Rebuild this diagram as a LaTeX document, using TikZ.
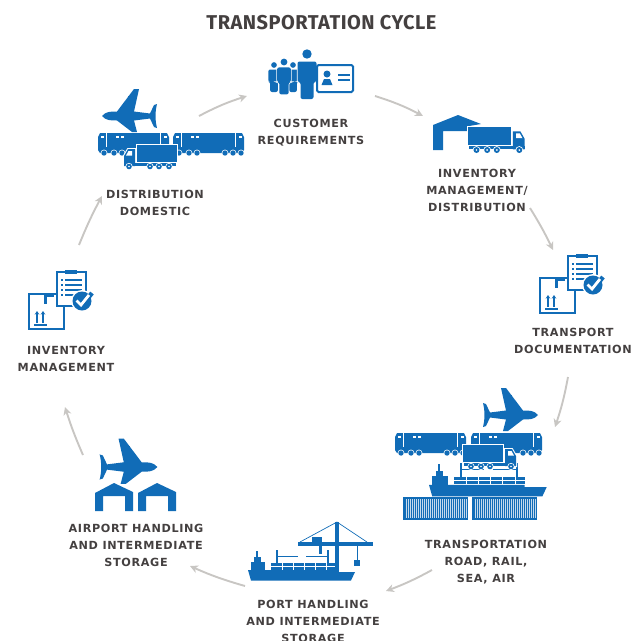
\documentclass[tikz,border=0pt]{standalone}
\usepackage{fontspec}
\usetikzlibrary{arrows.meta}
\newfontfamily\stagefont[LetterSpace=6]{DejaVu Sans}
\newfontfamily\headfont[LetterSpace=2.5]{Fira Sans}
\definecolor{iconblue}{RGB}{17,108,183}
\definecolor{labelgray}{RGB}{68,64,64}
\definecolor{flowgray}{RGB}{200,198,195}
\tikzset{
    halo/.style={fill=iconblue, preaction={draw=white, line width=2pt}},
    flow/.style={flowgray, line width=1.9pt, -{Stealth[length=8pt,width=8pt,inset=2.5pt]}},
    stagezone/.style={inner sep=0pt, outer sep=0pt, minimum width=#1},
    stagelabel/.style={text=labelgray, align=center, inner sep=0pt,
        font=\stagefont\bfseries\fontsize{11.2}{17}\selectfont},
    plane/.pic={
        \fill[halo] (-28,0) .. controls (-24,-4.5) and (-20,-4.5) .. (-13,-4.5) -- (4,-27) -- (9,-27)
            -- (4,-4.5) -- (20,-2.5) -- (24,-11) -- (27,-12) .. controls (25,-4) and (25,4) .. (27,12)
            -- (24,11) -- (20,2.5) -- (4,4.5) -- (7,16) -- (2,16) -- (-13,4.5)
            .. controls (-20,4.5) and (-24,4.5) .. (-28,0) -- cycle;
        \fill[iconblue] (-7,-12.5) rectangle (1,-9.5);
        \fill[iconblue] (-2,-20) rectangle (4,-17);
    },
    train/.pic={
        \fill[iconblue] (0,9) -- (0,4) -- (2,0) -- (69,0) -- (71,4) -- (71,17) -- (69,20) -- (2,20) -- (0,17) -- cycle;
        \fill[white] (2.5,3) rectangle (5.5,4.8);
        \fill[white] (65.5,3) rectangle (68.5,4.8);
        \fill[white] (18,3) rectangle (21,5);
        \fill[white] (23,3) rectangle (26,5);
        \draw[white, line width=.5pt] (8.5,0) -- (8.5,14) (62.5,0) -- (62.5,14);
        \foreach \wheelx in {6,16,24,52,60,68} {
            \fill[white] (\wheelx,20) circle (3.4);
            \fill[iconblue] (\wheelx,20) circle (2.7);
        }
    },
    truck/.pic={
        \fill[halo] (-1,0) rectangle (39,17);
        \fill[halo] (41,4) -- (48,4) -- (52,11) -- (52,21) -- (41,21) -- cycle;
        \fill[iconblue] (0,18) rectangle (52,21);
        \fill[white] (44,6) -- (47.5,6) -- (50,10.5) -- (44,10.5) -- cycle;
        \foreach \wheelx in {7,17,26,47} {
            \fill[white] (\wheelx,21.5) circle (3.6);
            \fill[iconblue] (\wheelx,21.5) circle (2.8);
            \fill[white] (\wheelx,21.5) circle (.9);
        }
    },
    ship/.pic={
        \fill[iconblue] (0,-1) -- (3,9.5) -- (103,9.5) -- (107,1) -- (87,1) -- (87,-1) -- cycle;
        \fill[iconblue] (3,-9) rectangle (17,0);
        \fill[iconblue] (6,-14) rectangle (13,-9);
        \fill[iconblue] (8,-20) rectangle (10,-14);
        \fill[iconblue] (23,-8) rectangle (87,-1.5);
        \foreach \slotx in {34,45,56,67,78} {
            \draw[white, line width=.6pt] (\slotx,-8) -- (\slotx,-1.5);
        }
        \draw[white, line width=.6pt] (23,-4.8) -- (87,-4.8);
        \fill[iconblue] (28,-21) rectangle (30,-8);
        \fill[iconblue] (79,-21) rectangle (81,-8);
        \draw[iconblue, line width=.8pt] (30,-15) -- (50,-15) (58,-15) -- (79,-15);
    },
    crane/.pic={
        \fill[iconblue] (-1.6,0) rectangle (1.6,50);
        \fill[iconblue] (-39,20) rectangle (36,23.5);
        \draw[iconblue, line width=.7pt] (-37,20) -- (0,0) -- (30,20);
        \fill[iconblue] (-25,15) rectangle (-15,22);
        \fill[iconblue] (-18,23) rectangle (-15.5,32);
        \draw[iconblue, line width=.7pt] (20,23) -- (20,38);
        \fill[iconblue] (16.5,38) rectangle (22.5,44);
    },
    container/.pic={
        \fill[iconblue] (0,0) rectangle (65,23);
        \foreach \ribx in {3,5,...,63} {
            \draw[white!75!iconblue, line width=.5pt] (\ribx,2) -- (\ribx,21);
        }
    },
    depot/.pic={
        \fill[iconblue] (0,10) -- (25,0) -- (48,9) -- (36,11) -- (36,16) -- (10,16) -- (10,35) -- (0,35) -- cycle;
    },
    hangar/.pic={
        \fill[iconblue] (0,10) -- (19,0) -- (38,9) -- (38,28) -- (30,28) -- (30,13) -- (8,13) -- (8,28) -- (0,28) -- cycle;
    },
    paperwork/.pic={
        \draw[iconblue, line width=1.8pt] (0,0) rectangle (35,35);
        \fill[iconblue] (15,0) rectangle (25,3);
        \fill[iconblue] (15,0) rectangle (18,10);
        \draw[iconblue, line width=1.2pt, -{Stealth[length=3.5pt,width=4.5pt]}] (8,29) -- (8,17);
        \draw[iconblue, line width=1.2pt, -{Stealth[length=3.5pt,width=4.5pt]}] (14,29) -- (14,17);
        \fill[iconblue] (5,30) rectangle (18,31.5);
        \draw[iconblue, fill=white, line width=1.8pt] (28,-22) rectangle (57,12);
        \fill[iconblue] (36,-24) rectangle (48,-20);
        \foreach \rowy in {-15,-10,-5,0} {
            \fill[iconblue] (32,\rowy) rectangle (34,\rowy+2);
            \fill[iconblue] (36,\rowy) rectangle (53,\rowy+2);
        }
        \fill[white] (53,7) circle (11);
        \fill[iconblue] (53,7) circle (9.5);
        \draw[iconblue, line width=4.5pt] (55,9) -- (63,-1);
        \draw[white, line width=2.8pt] (47.5,6.5) -- (52,11) -- (60,1);
    },
    person/.pic={
        \fill[iconblue, preaction={draw=white, line width=1.5pt}] (0,0) circle (4.7);
        \fill[iconblue, rounded corners=2pt, preaction={draw=white, line width=1.5pt}]
            (-9.5,7.5) -- (9.5,7.5) -- (9.5,28) -- (6.5,28) -- (6.5,45) -- (-6.5,45) -- (-6.5,28) -- (-9.5,28) -- cycle;
    },
    idcard/.pic={
        \draw[iconblue, line width=2pt, rounded corners=1.5pt] (0,0) rectangle (36,27);
        \fill[iconblue] (10,9) circle (3.5);
        \fill[iconblue] (4.5,20) -- (7,14) -- (13,14) -- (15.5,20) -- cycle;
        \draw[iconblue, line width=1.6pt] (21,10) -- (33,10) (21,15) -- (33,15);
    },
}
\begin{document}
\begin{tikzpicture}[x=1pt, y=-1pt]
    \useasboundingbox (0,0) rectangle (633,641);

    \node[inner sep=0pt, text=labelgray, font=\headfont\bfseries\fontsize{20}{22}\selectfont] (title) at (321.5,23) {TRANSPORTATION CYCLE};

    \node[stagezone=128pt] (customer) at (311,96) {};
    \node[stagezone=107pt, minimum height=92pt] (inventorydist) at (476.5,162) {};
    \node[stagezone=15pt, minimum height=127pt] (documentation) at (560.5,313.5) {};
    \node[stagezone=123pt, minimum height=143pt] (transportation) at (493.5,498.5) {};
    \node[stagezone=141pt, minimum height=5pt] (port) at (315.5,588.5) {};
    \node[stagezone=107pt, minimum height=111pt] (airport) at (136.5,510.5) {};
    \node[stagezone=14pt, minimum height=162pt] (inventory) at (72,326) {};
    \node[stagezone=97pt, minimum height=80pt] (distribution) at (150.5,156) {};

    \node[stagelabel] (customerlabel) at (311,132.5) {CUSTOMER\\REQUIREMENTS};
    \node[stagelabel] (inventorydistlabel) at (477,190) {INVENTORY\\MANAGEMENT/\\DISTRIBUTION};
    \node[stagelabel] (documentationlabel) at (573,340.5) {TRANSPORT\\DOCUMENTATION};
    \node[stagelabel] (transportationlabel) at (486,562) {TRANSPORTATION\\ROAD, RAIL,\\SEA, AIR};
    \node[stagelabel] (portlabel) at (313,621) {PORT HANDLING\\AND INTERMEDIATE\\STORAGE};
    \node[stagelabel] (airportlabel) at (136,545) {AIRPORT HANDLING\\AND INTERMEDIATE\\STORAGE};
    \node[stagelabel] (inventorylabel) at (66,358.5) {INVENTORY\\MANAGEMENT};
    \node[stagelabel] (distributionlabel) at (155,202.5) {DISTRIBUTION\\DOMESTIC};

    \draw[flow] (distribution.north east) to[bend left=5] (customer.west);
    \draw[flow] (customer.east) to[bend left=5] (inventorydist.north west);
    \draw[flow] (inventorydist.south east) to[bend left=3] (documentation.north west);
    \draw[flow] (documentation.south east) to[bend left=4] (transportation.north east);
    \draw[flow] (transportation.south west) to[bend left=4] (port.south east);
    \draw[flow] (port.north west) to[bend left=4] (airport.south east);
    \draw[flow] (airport.north west) to[bend left=3] (inventory.south west);
    \draw[flow] (inventory.north east) to[bend left=3] (distribution.south west);

    \pic[scale=.6] at (274,65) {person};
    \pic[scale=.6] at (293,65) {person};
    \pic[scale=.72] at (284,62) {person};
    \pic at (307,54) {person};
    \pic at (317,65) {idcard};

    \pic at (130,116) {plane};
    \pic at (98,133) {train};
    \pic at (173,133) {train};
    \pic[xscale=-1] at (176,145) {truck};

    \pic at (433,115) {depot};
    \pic[scale=1.07] at (469,127) {truck};

    \pic at (540,278) {paperwork};
    \pic at (29,294) {paperwork};

    \pic[xscale=-1] at (510,415) {plane};
    \pic at (395,433) {train};
    \pic at (471,433) {train};
    \pic[scale=1.1] at (429,486) {ship};
    \pic at (464,445) {truck};
    \pic at (403,497) {container};
    \pic at (472,497) {container};

    \pic at (248,571) {ship};
    \pic at (337,522) {crane};

    \pic at (95,483) {hangar};
    \pic at (138,483) {hangar};
    \pic[xscale=-1.05, yscale=1.05] at (128,467) {plane};
\end{tikzpicture}
\end{document}
